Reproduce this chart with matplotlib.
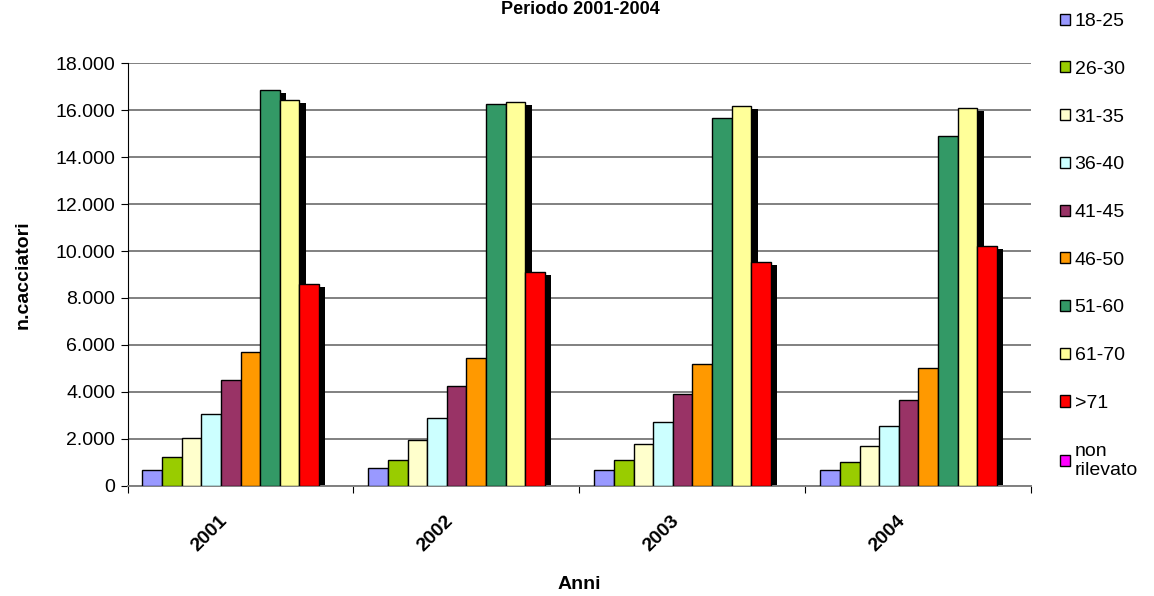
import matplotlib
matplotlib.use("Agg")
import matplotlib.pyplot as plt
import matplotlib.transforms as mtransforms
from matplotlib.ticker import FuncFormatter, FixedLocator, NullFormatter
import numpy as np

plt.rcParams['font.family'] = ['Liberation Sans', 'DejaVu Sans']

# dati
anni = ['2001', '2002', '2003', '2004']
classi = ['18-25', '26-30', '31-35', '36-40', '41-45', '46-50',
          '51-60', '61-70', '>71', 'non\nrilevato']
colori = ['#9999FF', '#99CC00', '#FFFFCC', '#CCFFFF', '#993366',
          '#FF9900', '#339966', '#FFFF99', '#FF0000', '#FF00FF']

v_18_25 = [670, 770, 670, 670]
v_26_30 = [1210, 1100, 1100, 1000]
v_31_35 = [2050, 1960, 1780, 1690]
v_36_40 = [3050, 2890, 2730, 2560]
v_41_45 = [4520, 4250, 3920, 3650]
v_46_50 = [5700, 5440, 5200, 5020]
v_51_60 = [16860, 16280, 15670, 14900]
v_61_70 = [16440, 16350, 16180, 16090]
v_71 = [8590, 9120, 9530, 10210]
v_non_ril = [0, 0, 0, 0]

serie = [v_18_25, v_26_30, v_31_35, v_36_40, v_41_45, v_46_50,
         v_51_60, v_61_70, v_71, v_non_ril]

fig = plt.figure(figsize=(11.54, 5.96), dpi=100)
ax = fig.add_axes([0.1105, 0.1851, 0.7833, 0.7087])

x = np.arange(len(anni))
w = 1 / 11.5
shadow_dx = 0.027
shadow_dy = 130

for i, (vals, col, lab) in enumerate(zip(serie, colori, classi)):
    pos = x + (i - 5) * w
    vals = np.array(vals)
    # ombra nera dietro le barre
    ax.bar(pos + shadow_dx, np.clip(vals - shadow_dy, 0, None), w, align='edge',
           color='black', linewidth=0, zorder=2)
    lw = [1.0 if v > 0 else 0 for v in vals]
    ax.bar(pos, vals, w, align='edge', color=col, edgecolor='black',
           linewidth=lw, label=lab, zorder=3)

ax.set_xlim(-0.5, 3.5)
ax.set_ylim(0, 18000)
ax.set_yticks(np.arange(0, 18001, 2000))
ax.yaxis.set_major_formatter(FuncFormatter(lambda v, p: f"{int(v):,}".replace(",", ".")))
ax.yaxis.grid(True, color='#808080', linewidth=1.4, zorder=0)
ax.set_axisbelow(True)

ax.xaxis.set_major_locator(FixedLocator(np.arange(-0.5, 3.6, 1)))
ax.xaxis.set_major_formatter(NullFormatter())
ax.xaxis.set_minor_locator(FixedLocator(x))
ax.set_xticklabels(anni, minor=True, fontsize=14, fontweight='bold',
                   rotation=45, ha='right', va='center', rotation_mode='anchor')
ax.tick_params(axis='x', which='minor', length=0, pad=0)
ax.tick_params(axis='x', which='major', length=5, color='black')
ax.tick_params(axis='y', length=5, labelsize=14, pad=4)

off = mtransforms.ScaledTranslation(-0.16, -0.33, fig.dpi_scale_trans)
for lbl in ax.xaxis.get_minorticklabels():
    lbl.set_transform(lbl.get_transform() + off)

for s in ['top', 'right']:
    ax.spines[s].set_visible(False)
ax.spines['bottom'].set_color('#808080')
ax.spines['bottom'].set_linewidth(1.4)
ax.spines['left'].set_color('black')

ax.set_xlabel('Anni', fontsize=14, fontweight='bold')
ax.xaxis.set_label_coords(0.5, -0.215)
ax.set_ylabel('n.cacciatori', fontsize=14, fontweight='bold')
ax.yaxis.set_label_coords(-0.106, 0.5)

fig.text(0.5026, 0.999, 'Periodo 2001-2004', ha='center', va='top',
         fontsize=13, fontweight='bold')

leg = ax.legend(loc='upper left', bbox_to_anchor=(0.9185, 0.978),
                bbox_transform=fig.transFigure,
                frameon=False, fontsize=14, borderpad=0, borderaxespad=0,
                handlelength=0.5, handleheight=0.5, handletextpad=0.25,
                labelspacing=1.58)
for h in leg.legend_handles:
    h.set_linewidth(1.0)

fig.savefig('out.png', dpi=100)
